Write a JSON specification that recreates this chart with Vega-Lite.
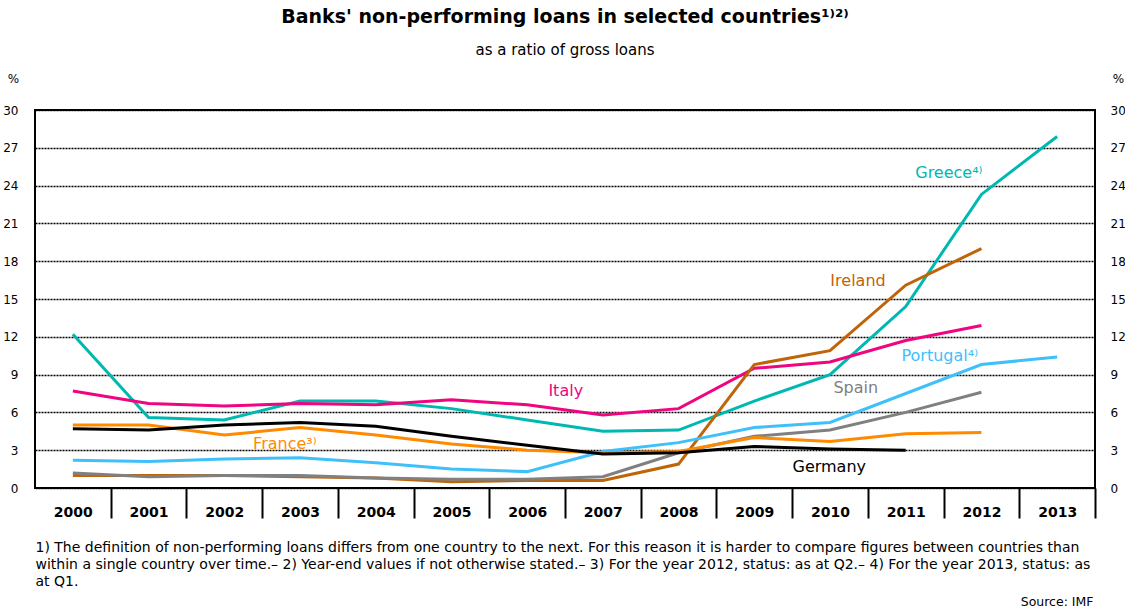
{
  "$schema": "https://vega.github.io/schema/vega-lite/v6.json",
  "width": 1060,
  "height": 378,
  "padding": {"left": 35, "top": 110, "right": 30, "bottom": 119},
  "autosize": {"type": "none"},
  "background": "white",
  "title": {
    "text": "Banks' non-performing loans in selected countries¹⁾²⁾",
    "subtitle": "as a ratio of gross loans",
    "anchor": "middle",
    "frame": "group",
    "font": "DejaVu Sans",
    "fontSize": 19,
    "fontWeight": "bold",
    "color": "black",
    "subtitleFont": "DejaVu Sans",
    "subtitleFontSize": 15,
    "subtitleColor": "black",
    "subtitlePadding": 16,
    "offset": 14
  },
  "config": {
    "view": {"stroke": "black", "strokeWidth": 2},
    "axis": {"labelColor": "black", "titleColor": "black"}
  },
  "datasets": {
    "series": [
      {"country": "Greece", "year": 2000, "value": 12.2},
      {"country": "Greece", "year": 2001, "value": 5.6},
      {"country": "Greece", "year": 2002, "value": 5.4},
      {"country": "Greece", "year": 2003, "value": 6.9},
      {"country": "Greece", "year": 2004, "value": 6.9},
      {"country": "Greece", "year": 2005, "value": 6.3},
      {"country": "Greece", "year": 2006, "value": 5.4},
      {"country": "Greece", "year": 2007, "value": 4.5},
      {"country": "Greece", "year": 2008, "value": 4.6},
      {"country": "Greece", "year": 2009, "value": 6.9},
      {"country": "Greece", "year": 2010, "value": 9.0},
      {"country": "Greece", "year": 2011, "value": 14.4},
      {"country": "Greece", "year": 2012, "value": 23.3},
      {"country": "Greece", "year": 2013, "value": 27.9},
      {"country": "Italy", "year": 2000, "value": 7.7},
      {"country": "Italy", "year": 2001, "value": 6.7},
      {"country": "Italy", "year": 2002, "value": 6.5},
      {"country": "Italy", "year": 2003, "value": 6.7},
      {"country": "Italy", "year": 2004, "value": 6.6},
      {"country": "Italy", "year": 2005, "value": 7.0},
      {"country": "Italy", "year": 2006, "value": 6.6},
      {"country": "Italy", "year": 2007, "value": 5.8},
      {"country": "Italy", "year": 2008, "value": 6.3},
      {"country": "Italy", "year": 2009, "value": 9.5},
      {"country": "Italy", "year": 2010, "value": 10.0},
      {"country": "Italy", "year": 2011, "value": 11.7},
      {"country": "Italy", "year": 2012, "value": 12.9},
      {"country": "Ireland", "year": 2000, "value": 1.0},
      {"country": "Ireland", "year": 2001, "value": 1.0},
      {"country": "Ireland", "year": 2002, "value": 1.0},
      {"country": "Ireland", "year": 2003, "value": 0.9},
      {"country": "Ireland", "year": 2004, "value": 0.8},
      {"country": "Ireland", "year": 2005, "value": 0.5},
      {"country": "Ireland", "year": 2006, "value": 0.6},
      {"country": "Ireland", "year": 2007, "value": 0.6},
      {"country": "Ireland", "year": 2008, "value": 1.9},
      {"country": "Ireland", "year": 2009, "value": 9.8},
      {"country": "Ireland", "year": 2010, "value": 10.9},
      {"country": "Ireland", "year": 2011, "value": 16.1},
      {"country": "Ireland", "year": 2012, "value": 19.0},
      {"country": "Spain", "year": 2000, "value": 1.2},
      {"country": "Spain", "year": 2001, "value": 0.9},
      {"country": "Spain", "year": 2002, "value": 1.0},
      {"country": "Spain", "year": 2003, "value": 1.0},
      {"country": "Spain", "year": 2004, "value": 0.8},
      {"country": "Spain", "year": 2005, "value": 0.7},
      {"country": "Spain", "year": 2006, "value": 0.7},
      {"country": "Spain", "year": 2007, "value": 0.9},
      {"country": "Spain", "year": 2008, "value": 2.8},
      {"country": "Spain", "year": 2009, "value": 4.1},
      {"country": "Spain", "year": 2010, "value": 4.6},
      {"country": "Spain", "year": 2011, "value": 6.0},
      {"country": "Spain", "year": 2012, "value": 7.6},
      {"country": "Portugal", "year": 2000, "value": 2.2},
      {"country": "Portugal", "year": 2001, "value": 2.1},
      {"country": "Portugal", "year": 2002, "value": 2.3},
      {"country": "Portugal", "year": 2003, "value": 2.4},
      {"country": "Portugal", "year": 2004, "value": 2.0},
      {"country": "Portugal", "year": 2005, "value": 1.5},
      {"country": "Portugal", "year": 2006, "value": 1.3},
      {"country": "Portugal", "year": 2007, "value": 2.9},
      {"country": "Portugal", "year": 2008, "value": 3.6},
      {"country": "Portugal", "year": 2009, "value": 4.8},
      {"country": "Portugal", "year": 2010, "value": 5.2},
      {"country": "Portugal", "year": 2011, "value": 7.5},
      {"country": "Portugal", "year": 2012, "value": 9.8},
      {"country": "Portugal", "year": 2013, "value": 10.4},
      {"country": "France", "year": 2000, "value": 5.0},
      {"country": "France", "year": 2001, "value": 5.0},
      {"country": "France", "year": 2002, "value": 4.2},
      {"country": "France", "year": 2003, "value": 4.8},
      {"country": "France", "year": 2004, "value": 4.2},
      {"country": "France", "year": 2005, "value": 3.5},
      {"country": "France", "year": 2006, "value": 3.0},
      {"country": "France", "year": 2007, "value": 2.8},
      {"country": "France", "year": 2008, "value": 2.9},
      {"country": "France", "year": 2009, "value": 4.0},
      {"country": "France", "year": 2010, "value": 3.7},
      {"country": "France", "year": 2011, "value": 4.3},
      {"country": "France", "year": 2012, "value": 4.4},
      {"country": "Germany", "year": 2000, "value": 4.7},
      {"country": "Germany", "year": 2001, "value": 4.6},
      {"country": "Germany", "year": 2002, "value": 5.0},
      {"country": "Germany", "year": 2003, "value": 5.2},
      {"country": "Germany", "year": 2004, "value": 4.9},
      {"country": "Germany", "year": 2005, "value": 4.1},
      {"country": "Germany", "year": 2006, "value": 3.4},
      {"country": "Germany", "year": 2007, "value": 2.7},
      {"country": "Germany", "year": 2008, "value": 2.8},
      {"country": "Germany", "year": 2009, "value": 3.3},
      {"country": "Germany", "year": 2010, "value": 3.1},
      {"country": "Germany", "year": 2011, "value": 3.0}
    ],
    "labels": [
      {"country": "Greece", "label": "Greece⁴⁾", "year": 2011.57, "value": 25.0},
      {"country": "Ireland", "label": "Ireland", "year": 2010.37, "value": 16.4},
      {"country": "Italy", "label": "Italy", "year": 2006.51, "value": 7.7},
      {"country": "Portugal", "label": "Portugal⁴⁾", "year": 2011.45, "value": 10.45},
      {"country": "Spain", "label": "Spain", "year": 2010.34, "value": 7.9},
      {"country": "Germany", "label": "Germany", "year": 2009.99, "value": 1.7},
      {"country": "France", "label": "France³⁾", "year": 2002.8, "value": 3.5}
    ]
  },
  "layer": [
    {
      "data": {"name": "series"},
      "mark": {"type": "line", "strokeWidth": 3},
      "encoding": {
        "x": {
          "field": "year",
          "type": "quantitative",
          "scale": {"domain": [1999.5, 2013.5], "nice": false, "zero": false},
          "axis": {
            "orient": "bottom",
            "values": [1999, 2000, 2001, 2002, 2003, 2004, 2005, 2006, 2007, 2008, 2009, 2010, 2011, 2012, 2013],
            "format": "d",
            "tickOffset": 37.857,
            "labelOffset": -37.857,
            "tickSize": 30,
            "tickWidth": 2,
            "tickColor": "black",
            "domain": false,
            "grid": false,
            "labelFont": "DejaVu Sans",
            "labelFontWeight": "bold",
            "labelFontSize": 14,
            "labelPadding": -13,
            "labelFlush": false,
            "labelOverlap": false,
            "labelBound": false,
            "labelExpr": "datum.value < 2000 ? '' : datum.label",
            "title": [
              "1) The definition of non-performing loans differs from one country to the next. For this reason it is harder to compare figures between countries than",
              "within a single country over time.– 2) Year-end values if not otherwise stated.– 3) For the year 2012, status: as at Q2.– 4) For the year 2013, status: as",
              "at Q1."
            ],
            "titleFont": "DejaVu Sans",
            "titleFontSize": 14,
            "titleFontWeight": "normal",
            "titleAlign": "left",
            "titleAnchor": "start",
            "titleX": 0,
            "titleY": 52,
            "titleBaseline": "top",
            "titleLineHeight": 17
          }
        },
        "y": {
          "field": "value",
          "type": "quantitative",
          "scale": {"domain": [0, 30], "nice": false},
          "axis": {
            "orient": "left",
            "values": [0, 3, 6, 9, 12, 15, 18, 21, 24, 27, 30],
            "ticks": false,
            "domain": false,
            "grid": true,
            "gridColor": "black",
            "gridDash": [2, 1],
            "gridWidth": 1.4,
            "gridOpacity": 1,
            "labelFont": "DejaVu Sans",
            "labelFontSize": 12,
            "labelPadding": 17,
            "title": "%",
            "titleAngle": 0,
            "titleX": -22,
            "titleY": -32,
            "titleAlign": "center",
            "titleBaseline": "middle",
            "titleFont": "DejaVu Sans",
            "titleFontSize": 12,
            "titleFontWeight": "normal"
          }
        },
        "color": {
          "field": "country",
          "type": "nominal",
          "scale": {
            "domain": ["Greece", "Italy", "Ireland", "Spain", "Portugal", "France", "Germany"],
            "range": ["#00B8B2", "#F0047F", "#C06408", "#808080", "#40C0FA", "#FF8A00", "#000000"]
          },
          "legend": null
        }
      }
    },
    {
      "data": {"name": "labels"},
      "mark": {"type": "text", "font": "DejaVu Sans", "fontSize": 16, "align": "center", "baseline": "middle"},
      "encoding": {
        "x": {
          "field": "year",
          "type": "quantitative",
          "axis": {
            "orient": "top",
            "labels": false,
            "ticks": false,
            "domain": false,
            "grid": false,
            "title": "Source: IMF",
            "titleX": 1058,
            "titleY": 491,
            "titleAlign": "right",
            "titleAnchor": "end",
            "titleBaseline": "middle",
            "titleFont": "DejaVu Sans",
            "titleFontSize": 12.5,
            "titleFontWeight": "normal"
          }
        },
        "y": {
          "field": "value",
          "type": "quantitative",
          "axis": {
            "orient": "right",
            "values": [0, 3, 6, 9, 12, 15, 18, 21, 24, 27, 30],
            "ticks": false,
            "domain": false,
            "grid": false,
            "labelFont": "DejaVu Sans",
            "labelFontSize": 12,
            "labelPadding": 15,
            "title": "%",
            "titleAngle": 0,
            "titleX": 23,
            "titleY": -32,
            "titleAlign": "center",
            "titleBaseline": "middle",
            "titleFont": "DejaVu Sans",
            "titleFontSize": 12,
            "titleFontWeight": "normal"
          }
        },
        "text": {"field": "label"},
        "color": {"field": "country", "type": "nominal", "legend": null}
      }
    }
  ],
  "resolve": {"axis": {"x": "independent", "y": "independent"}}
}
